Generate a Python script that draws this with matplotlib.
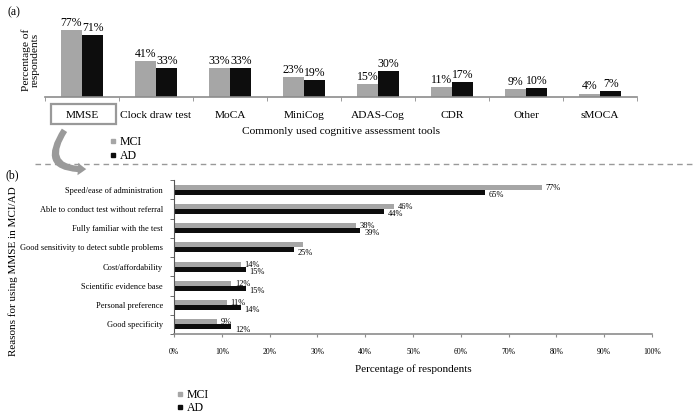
import matplotlib
matplotlib.use("Agg")
import matplotlib.pyplot as plt
from matplotlib.lines import Line2D
from matplotlib.patches import Rectangle, FancyArrowPatch
import numpy as np

plt.rcParams['font.family'] = ['Liberation Serif', 'DejaVu Serif']

# panel (a) data
tools = ["MMSE", "Clock draw test", "MoCA", "MiniCog", "ADAS-Cog", "CDR", "Other", "sMOCA"]
tools_mci = [77, 41, 33, 23, 15, 11, 9, 4]
tools_ad = [71, 33, 33, 19, 30, 17, 10, 7]

# panel (b) data
reasons = ["Speed/ease of administration", "Able to conduct test without referral",
           "Fully familiar with the test", "Good sensitivity to detect subtle problems",
           "Cost/affordability", "Scientific evidence base", "Personal preference",
           "Good specificity"]
reasons_mci = [77, 46, 38, 27, 14, 12, 11, 9]
reasons_ad = [65, 44, 39, 25, 15, 15, 14, 12]
mci_shown = [True, True, True, False, True, True, True, True]

GRAY = "#a6a6a6"
BLACK = "#0d0d0d"
AXC = "#8c8c8c"
W, H = 696, 418

fig = plt.figure(figsize=(W / 100, H / 100), dpi=100)

def fx(px):
    return px / W

def fy(py):
    return 1 - py / H

# ---- (a) ----
ax = fig.add_axes([fx(45), fy(97), fx(592), 74 / H])
x = np.arange(len(tools))
bw = 0.29
ax.bar(x - bw / 2, tools_mci, bw, color=GRAY)
ax.bar(x + bw / 2, tools_ad, bw, color=BLACK)
for i in range(len(tools)):
    ax.text(x[i] - bw / 2, tools_mci[i] + 1.5, f"{tools_mci[i]}%", ha="center", va="bottom", fontsize=8.5)
    ax.text(x[i] + bw / 2, tools_ad[i] + 1.5, f"{tools_ad[i]}%", ha="center", va="bottom", fontsize=8.5)
ax.set_xlim(-0.5, len(tools) - 0.5)
ax.set_ylim(0, 85)
ax.set_xticks(x)
ax.set_xticklabels(tools, fontsize=8.2)
ax.set_xticks(np.arange(-0.5, len(tools)), minor=True)
ax.tick_params(axis="x", which="major", length=0, pad=10)
ax.tick_params(axis="x", which="minor", length=3, color=AXC, direction="out")
ax.set_yticks([])
for s in ["top", "right", "left"]:
    ax.spines[s].set_visible(False)
ax.spines["bottom"].set_color(AXC)
ax.spines["bottom"].set_linewidth(1.2)
ax.set_ylabel("Percentage of\nrespondents", fontsize=8.2, labelpad=4, linespacing=0.95)
ax.set_xlabel("Commonly used cognitive assessment tools", fontsize=8.2, labelpad=5)

fig.text(fx(7), fy(12), "(a)", fontsize=8.5, va="center")
fig.text(fx(6), fy(175), "(b)", fontsize=8.5, va="center")

fig.patches.append(Rectangle((fx(51), fy(124)), fx(65), 20 / H, transform=fig.transFigure,
                             fill=False, edgecolor="#999999", lw=1.6))
arr = FancyArrowPatch((fx(66), fy(128)), (fx(89), fy(169)), transform=fig.transFigure,
                      connectionstyle="arc3,rad=1.0",
                      arrowstyle="simple,head_width=9,head_length=6,tail_width=4.5",
                      color="#9a9a9a", lw=0, zorder=3)
fig.patches.append(arr)

hs = [Line2D([], [], ls="", marker="s", ms=3.5, color=GRAY),
      Line2D([], [], ls="", marker="s", ms=3.5, color=BLACK)]
fig.legend(hs, ["MCI", "AD"], loc="upper left", bbox_to_anchor=(fx(110), fy(136)),
           frameon=False, fontsize=8.5, handlelength=0.5, handletextpad=0.35,
           labelspacing=0.15, borderpad=0, borderaxespad=0)

fig.add_artist(Line2D([fx(35), fx(696)], [fy(164), fy(164)], color="#999999",
                      lw=1, ls=(0, (4, 3)), zorder=0))

# ---- (b) ----
bx = fig.add_axes([fx(174), fy(334), fx(478), 154 / H])
y = np.arange(len(reasons))
bh = 0.26
bx.barh(y - bh / 2, reasons_mci, bh, color=GRAY)
bx.barh(y + bh / 2, reasons_ad, bh, color=BLACK)
for i in range(len(reasons)):
    if mci_shown[i]:
        bx.text(reasons_mci[i] + 0.8, y[i] - bh / 2 + 0.02, f"{reasons_mci[i]}%", ha="left", va="center", fontsize=6)
    bx.text(reasons_ad[i] + 0.8, y[i] + bh / 2 + 0.14, f"{reasons_ad[i]}%", ha="left", va="center", fontsize=6)
bx.set_ylim(len(reasons) - 0.5, -0.5)
bx.set_xlim(0, 100)
bx.set_yticks(y)
bx.set_yticklabels(reasons, fontsize=6)
bx.set_yticks(np.arange(-0.5, len(reasons)), minor=True)
bx.tick_params(axis="y", which="major", length=0, pad=8)
bx.tick_params(axis="y", which="minor", length=3, color="#555555")
bx.set_xticks(np.arange(0, 101, 10))
bx.set_xticklabels([f"{v}%" for v in range(0, 101, 10)], fontsize=5.5)
bx.tick_params(axis="x", length=2, color=AXC, pad=8)
for s in ["top", "right"]:
    bx.spines[s].set_visible(False)
bx.spines["bottom"].set_color(AXC)
bx.spines["bottom"].set_linewidth(1.2)
bx.spines["left"].set_color("#555555")
bx.spines["left"].set_linewidth(0.8)
bx.set_xlabel("Percentage of respondents", fontsize=8, labelpad=6)
fig.text(fx(13), fy(271), "Reasons for using MMSE in MCI/AD", rotation=90,
         fontsize=8.0, ha="center", va="center")

fig.legend(hs, ["MCI", "AD"], loc="upper left", bbox_to_anchor=(fx(177), fy(389)),
           frameon=False, fontsize=8.5, handlelength=0.5, handletextpad=0.35,
           labelspacing=0.1, borderpad=0, borderaxespad=0)

fig.savefig("out.png", dpi=100)
